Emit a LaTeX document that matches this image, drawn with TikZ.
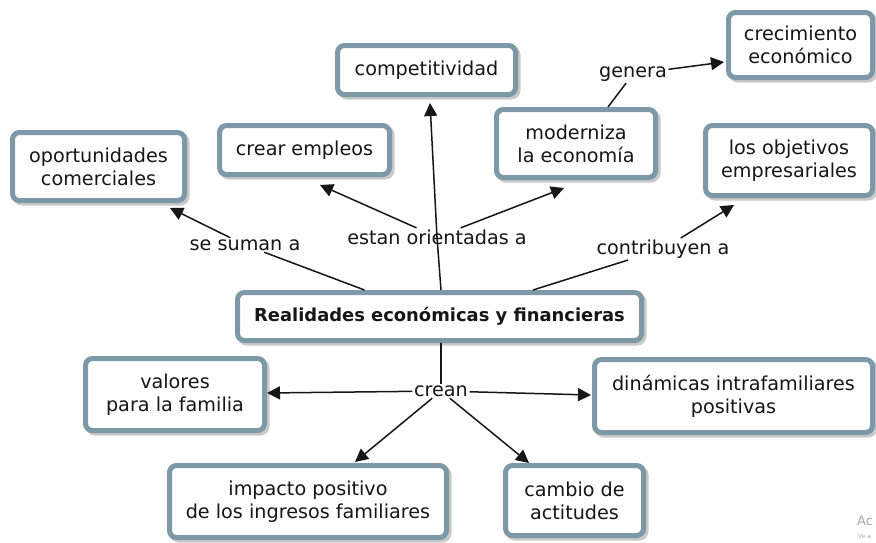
\documentclass[tikz,border=0pt]{standalone}
\usepackage{fontspec}
\setmainfont{DejaVu Sans}
\usetikzlibrary{arrows.meta,shadows}
\definecolor{boxborder}{HTML}{7D98A6}
\definecolor{shadowgray}{HTML}{C9C9C9}
\definecolor{inkgray}{HTML}{161616}
\tikzset{
  concept/.style={draw=boxborder, line width=5pt, rounded corners=7pt, fill=white,
    align=center, text=inkgray, inner sep=0pt,
    font=\fontsize{19.2}{23}\selectfont,
    drop shadow={shadow xshift=2.5pt, shadow yshift=-2.5pt, fill=shadowgray, draw=shadowgray, line width=5pt, opacity=1}},
  linklabel/.style={text=inkgray, inner sep=1.5pt, font=\fontsize{19.2}{23}\selectfont},
  conn/.style={draw=inkgray, line width=1.5pt},
  arr/.style={conn, -{Triangle[length=13pt,width=13pt]}}
}
\begin{document}
\begin{tikzpicture}[x=1pt,y=-1pt]
\useasboundingbox[fill=white] (0,0) rectangle (876,542);

% concepts
\node[concept, minimum width=178, minimum height=49] (comp) at (426.5,70) {competitividad};
\node[concept, minimum width=170, minimum height=49] (crear) at (304.5,150) {crear empleos};
\node[concept, minimum width=172, minimum height=68] (oport) at (98.5,166.5) {oportunidades\\comerciales};
\node[concept, minimum width=159, minimum height=68] (mod) at (576,143.5) {moderniza\\la econom\'ia};
\node[concept, minimum width=144, minimum height=65] (crec) at (800.5,45) {crecimiento\\econ\'omico};
\node[concept, minimum width=167, minimum height=70] (obj) at (789,160.5) {los objetivos\\empresariales};
\node[concept, minimum width=404, minimum height=48, font=\fontsize{17.9}{21}\selectfont\bfseries] (real) at (439.5,316.5) {Realidades econ\'omicas y financieras};
\node[concept, minimum width=179, minimum height=72] (val) at (175,394.5) {valores\\para la familia};
\node[concept, minimum width=278, minimum height=73] (din) at (733.5,396) {din\'amicas intrafamiliares\\positivas};
\node[concept, minimum width=277, minimum height=72] (imp) at (308,501.5) {impacto positivo\\de los ingresos familiares};
\node[concept, minimum width=138, minimum height=70] (camb) at (574.5,500.5) {cambio de\\actitudes};

% link labels
\node[linklabel] (lsum) at (245,245) {se suman a};
\node[linklabel] (lest) at (437,237) {estan orientadas a};
\node[linklabel] (lgen) at (633,74) {genera};
\node[linklabel] (lcon) at (663,249) {contribuyen a};
\node[linklabel] (lcre) at (441,391) {crean};

% connectors
\draw[conn] ([shift={(-75,0)}]real.north) -- (lsum);
\draw[arr] (lsum) -- ([shift={(71.5,5)}]oport.south);

\draw[conn] ([shift={(1.5,0)}]real.north) -- (lest.center);
\draw[arr] (lest.center) -- ([shift={(3.5,6)}]comp.south);
\draw[arr] (lest) -- ([shift={(15.5,8)}]crear.south);
\draw[arr] (lest) -- ([shift={(-12,8)}]mod.south);

\draw[conn] ([shift={(32,0)}]mod.north) -- (lgen);
\draw[arr] (lgen) -- ([shift={(-2,17)}]crec.west);

\draw[conn] ([shift={(93.5,0)}]real.north) -- (lcon);
\draw[arr] (lcon) -- ([shift={(-55,7)}]obj.south);

\draw[conn] ([shift={(1.5,0)}]real.south) -- (lcre);
\draw[arr] (lcre) -- ([shift={(0,-1.5)}]val.east);
\draw[arr] (lcre) -- ([shift={(-1,-1)}]din.west);
\draw[arr] (lcre) -- ([shift={(47,-1)}]imp.north);
\draw[arr] (lcre) -- ([shift={(-45.5,0)}]camb.north);

% faint watermark text
\node[anchor=west, text=black!35, inner sep=0pt, font=\fontsize{13}{13}\selectfont] (wm1) at (857,521) {Ac};
\node[anchor=west, text=black!35, inner sep=0pt, font=\fontsize{6}{6}\selectfont] (wm2) at (858,536) {Ve a};
\end{tikzpicture}
\end{document}
